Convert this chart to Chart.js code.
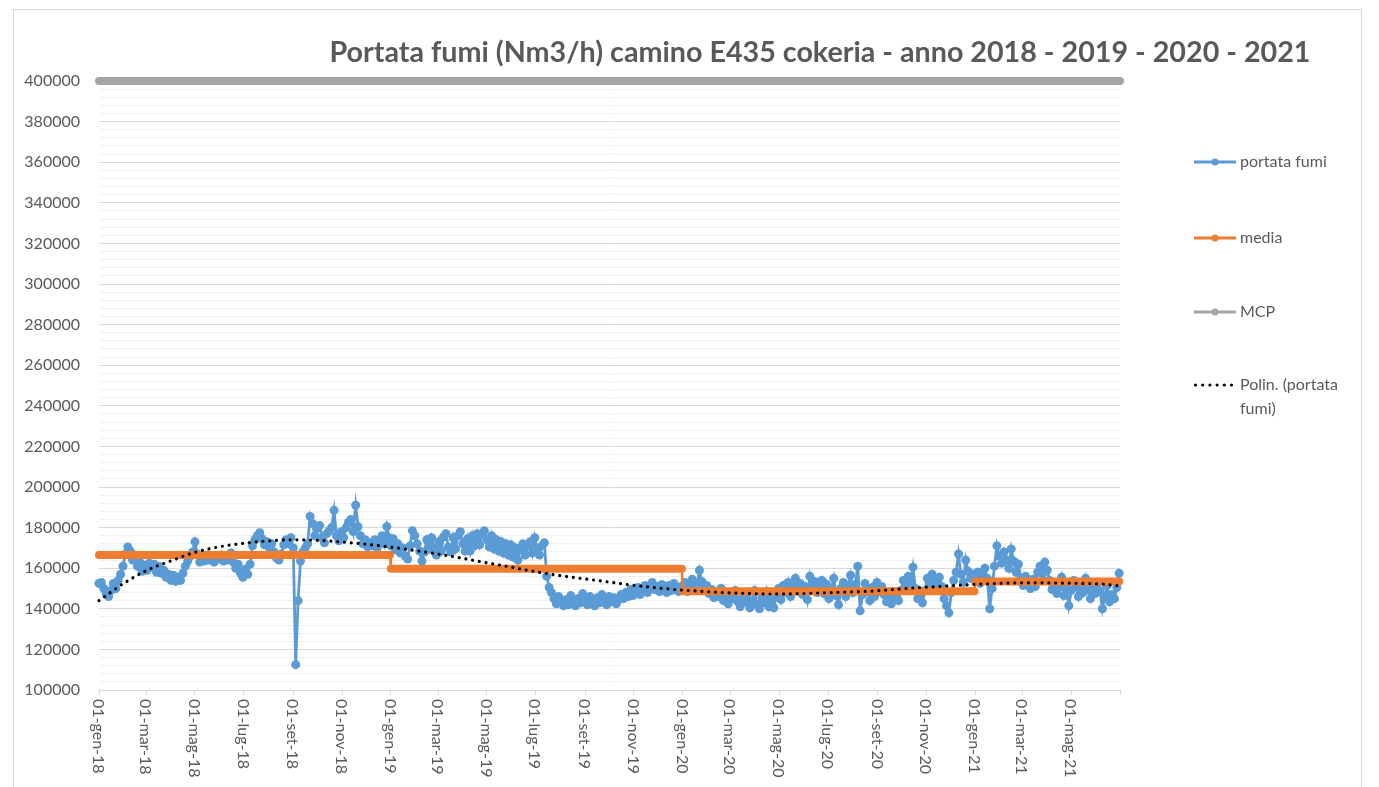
<!DOCTYPE html>
<html>
<head>
<meta charset="utf-8">
<script src="https://cdn.jsdelivr.net/npm/chart.js@4.4.1/dist/chart.umd.min.js"></script>
<style>
  html, body { margin: 0; padding: 0; background: #fff; }
  canvas { display: block; }
</style>
</head>
<body>
<canvas id="chart" width="1379" height="787"></canvas>
<script>
// portata fumi giornaliera, un valore ogni 3 giorni dal 1 gennaio di ogni anno (migliaia di Nm3/h)
const STEP_DAYS = 3;
const flow2018 = [
  152.5, 153, 150, 147.5, 146, 149, 152.5, 150, 154, 157, 161, 167, 170.5, 168.5, 164, 166.5, 161, 163, 158.5, 161.5,
  159, 162.5, 160.5, 162, 158, 161, 157.5, 159, 155.5, 157, 154, 156.5, 153.5, 155.5, 154, 157.5, 161, 163.5, 166, 168,
  173, 167, 163, 165.5, 163.5, 166.5, 164, 165.5, 163, 166, 164.5, 166.5, 163.5, 166, 164, 167.5, 163, 160, 162, 157.5,
  155.5, 159.5, 157, 162, 171, 174, 176, 177.5, 174.5, 171.5, 173, 170, 172, 168, 165, 164, 167, 171.5, 174, 172,
  175, 170, 112.5, 144, 163.5, 168, 170, 172, 185.5, 182, 176, 179.5, 181, 175, 172.5, 177, 178.5, 180, 188.5, 176,
  173.5, 178, 175, 180, 182.5, 184, 178, 191, 180.5, 176, 172, 174, 170.5, 172.5, 171, 174, 170, 173.5, 176, 172,
  180.5, 175
];
const flow2019 = [
  171, 174.5, 169, 172, 167.5, 170, 166, 164.5, 171, 178.5, 176, 172, 168.5, 163.5, 168, 174, 169.5, 175, 170, 166.5,
  173, 168.5, 175.5, 177, 170.5, 168, 175, 169.5, 176, 178, 172, 168.5, 174.5, 168.5, 176, 171, 177, 171.5, 177, 178.5,
  174, 170.5, 176, 169.5, 174, 168.5, 173, 167.5, 172, 166.5, 171.5, 165.5, 170, 164, 169.5, 172, 166.5, 171, 173, 167.5,
  175, 169.5, 166.5, 171, 172.5, 156, 150.5, 148, 145, 142.5, 146, 143, 141.5, 144.5, 142, 146.5, 143.5, 141.5, 145, 143,
  147.5, 144, 142, 146, 143.5, 141.5, 145.5, 143, 147, 144.5, 142, 146, 143.5, 145.5, 142.5, 144.5, 147, 145, 148, 146,
  149.5, 146.5, 148, 150.5, 147, 149, 151.5, 148, 150, 153, 149.5, 151, 148.5, 152, 150, 148, 151.5, 149, 152.5, 150,
  148.5, 151
];
const flow2020 = [
  150, 153, 148.5, 151.5, 154.5, 150, 152, 159, 153.5, 149.5, 151.5, 147.5, 149.5, 145.5, 148, 146, 150, 144, 146.5, 142.5,
  147, 145, 149, 143.5, 141, 146, 143.5, 147.5, 140.5, 144, 149, 142, 140, 145.5, 143, 148.5, 141, 144.5, 140.5, 146,
  150, 144.5, 151.5, 148, 153, 146, 150.5, 155, 149, 152.5, 147, 151, 144.5, 156, 151, 153.5, 148, 150.5, 154, 147.5,
  152, 145, 149.5, 155, 146.5, 142, 150, 153, 146, 151.5, 156.5, 148, 152, 161, 139, 147, 152.5, 149, 144, 150.5,
  146, 153, 148.5, 151, 147, 143.5, 146.5, 142.5, 145, 148.5, 144, 149, 154, 151, 156, 153, 160.5, 150, 145, 147.5,
  143, 149, 155, 151.5, 157, 153, 149.5, 155.5, 151, 145, 141.5, 138, 148, 154, 158, 167, 157, 153, 164, 158.5,
  155, 157
];
const flow2021 = [
  154, 158, 152.5, 156, 160, 155, 140, 150, 161, 171, 166, 162.5, 168, 164, 160, 169.5, 163.5, 158, 162, 155,
  151.5, 156, 153, 150, 154.5, 151, 158, 161, 157, 163, 159, 154, 149.5, 153, 147.5, 150.5, 155.5, 146.5, 150, 141.5,
  149, 154, 151, 146, 152, 148, 155, 149.5, 145, 150, 147.5, 153, 149, 140, 146, 151.5, 143.5, 147, 145, 150.5,
  157.5
];
const flowYearStarts = ['2018-01-01', '2019-01-01', '2020-01-01', '2021-01-01'];

// media annuale
const mediaStarts = ['2018-01-01', '2019-01-01', '2020-01-01', '2021-01-01'];
const mediaEnds = ['2018-12-31', '2019-12-31', '2020-12-31', '2021-06-30'];
const mediaValues = [166.5, 159.7, 148.7, 153.5];

// MCP
const mcpValue = 400;

// linea di tendenza polinomiale (giorno dal 01-gen-18, valore)
const trendDays = [0, 30, 60, 90, 120, 150, 180, 210, 240, 270, 300, 330, 360, 390, 420, 450, 480, 510, 540, 570,
  600, 630, 660, 690, 720, 750, 780, 810, 840, 870, 900, 930, 960, 990, 1020, 1050, 1080, 1110, 1140, 1170,
  1200, 1230, 1260, 1277];
const trendValues = [144.0, 152.3, 159.0, 163.6, 167.8, 170.5, 172.2, 173.4, 174.0, 173.8, 173.0, 172.0, 170.6, 169.0,
  167.2, 165.2, 163.0, 160.9, 158.7, 156.7, 155.1, 153.6, 152.0, 150.6, 149.5, 148.7, 148.0, 147.6, 147.3, 147.4,
  147.8, 148.2, 148.6, 149.4, 150.3, 151.0, 151.7, 152.3, 152.7, 152.8, 152.7, 152.5, 152.0, 151.2];

// asse x
const xTickLabels = ['01-gen-18', '01-mar-18', '01-mag-18', '01-lug-18', '01-set-18', '01-nov-18',
  '01-gen-19', '01-mar-19', '01-mag-19', '01-lug-19', '01-set-19', '01-nov-19',
  '01-gen-20', '01-mar-20', '01-mag-20', '01-lug-20', '01-set-20', '01-nov-20',
  '01-gen-21', '01-mar-21', '01-mag-21'];
const xTickDates = ['2018-01-01', '2018-03-01', '2018-05-01', '2018-07-01', '2018-09-01', '2018-11-01',
  '2019-01-01', '2019-03-01', '2019-05-01', '2019-07-01', '2019-09-01', '2019-11-01',
  '2020-01-01', '2020-03-01', '2020-05-01', '2020-07-01', '2020-09-01', '2020-11-01',
  '2021-01-01', '2021-03-01', '2021-05-01'];
const xEndDate = '2021-07-01';

// asse y
const yMin = 100000, yMax = 400000, yMajor = 20000, yMinor = 4000;

const title = 'Portata fumi (Nm3/h) camino E435 cokeria - anno 2018 - 2019 - 2020 - 2021';
const legendLabels = ['portata fumi', 'media', 'MCP', 'Polin. (portata fumi)'];

const BLUE = '#5b9bd5', ORANGE = '#ed7d31', GREY = '#a5a5a5', TEXT = '#595959';
const FONT = 'Lato, "Open Sans", sans-serif';

const BASE = Date.UTC(2018, 0, 1);
function dayOf(iso) {
  const [y, m, d] = iso.split('-').map(Number);
  return Math.round((Date.UTC(y, m - 1, d) - BASE) / 864e5);
}

const flowPoints = [];
[flow2018, flow2019, flow2020, flow2021].forEach((arr, k) => {
  const start = dayOf(flowYearStarts[k]);
  arr.forEach((v, i) => flowPoints.push({ x: start + i * STEP_DAYS, y: v * 1000 }));
});

const mediaPoints = [];
mediaValues.forEach((v, k) => {
  mediaPoints.push({ x: dayOf(mediaStarts[k]), y: v * 1000 });
  mediaPoints.push({ x: dayOf(mediaEnds[k]), y: v * 1000 });
});

const xEnd = dayOf(xEndDate);
const mcpPoints = [{ x: 0, y: mcpValue * 1000 }, { x: xEnd, y: mcpValue * 1000 }];
const trendPoints = trendDays.map((d, i) => ({ x: d, y: trendValues[i] * 1000 }));
const xTickDays = xTickDates.map(dayOf);

const frameAndText = {
  id: 'frameAndText',
  beforeDraw(chart) {
    const ctx = chart.ctx;
    ctx.save();
    ctx.fillStyle = '#fff';
    ctx.fillRect(0, 0, chart.width, chart.height);
    ctx.strokeStyle = '#d9d9d9';
    ctx.lineWidth = 1;
    ctx.strokeRect(13.5, 9.5, 1348, 800);
    ctx.restore();
  },
  afterDraw(chart) {
    const ctx = chart.ctx;
    const area = chart.chartArea;
    const xs = chart.scales.x;
    ctx.save();

    // titolo
    let size = 28;
    ctx.font = `bold ${size}px ${FONT}`;
    size = size * 980 / ctx.measureText(title).width;
    ctx.font = `bold ${size.toFixed(1)}px ${FONT}`;
    ctx.fillStyle = TEXT;
    ctx.textAlign = 'center';
    ctx.textBaseline = 'alphabetic';
    ctx.fillText(title, 820, 62);

    // etichette asse x ruotate
    ctx.font = `16px ${FONT}`;
    ctx.textAlign = 'left';
    ctx.textBaseline = 'middle';
    xTickDays.forEach((d, i) => {
      const px = xs.getPixelForValue(d);
      ctx.save();
      ctx.translate(px - 1, area.bottom + 9);
      ctx.rotate(Math.PI / 2);
      ctx.fillText(xTickLabels[i], 0, 0);
      ctx.restore();
    });

    // legenda
    const lx = 1194, lw = 42, tx = 1240;
    const rows = [162, 238, 312, 385];
    const colors = [BLUE, ORANGE, GREY];
    ctx.font = `16px ${FONT}`;
    ctx.fillStyle = TEXT;
    ctx.textAlign = 'left';
    ctx.textBaseline = 'middle';
    rows.forEach((y, i) => {
      if (i < 3) {
        ctx.strokeStyle = colors[i];
        ctx.lineWidth = 3;
        ctx.beginPath();
        ctx.moveTo(lx, y);
        ctx.lineTo(lx + lw, y);
        ctx.stroke();
        ctx.fillStyle = colors[i];
        ctx.beginPath();
        ctx.arc(lx + lw / 2, y, 3.5, 0, Math.PI * 2);
        ctx.fill();
        ctx.fillStyle = TEXT;
        ctx.fillText(legendLabels[i], tx, y);
      } else {
        ctx.fillStyle = '#000';
        for (let k = 0; k < 6; k++) {
          ctx.beginPath();
          ctx.arc(lx + 1.5 + k * 7.2, y, 1.6, 0, Math.PI * 2);
          ctx.fill();
        }
        ctx.fillStyle = TEXT;
        ctx.fillText('Polin. (portata', tx, y);
        ctx.fillText('fumi)', tx, y + 24);
      }
    });
    ctx.restore();
  }
};

new Chart(document.getElementById('chart'), {
  type: 'line',
  data: {
    datasets: [
      {
        label: legendLabels[3],
        data: trendPoints,
        borderColor: '#000',
        borderWidth: 3.2,
        borderDash: [0.01, 6.8],
        borderCapStyle: 'round',
        cubicInterpolationMode: 'monotone',
        pointRadius: 0,
        clip: false,
        order: 0
      },
      {
        label: legendLabels[2],
        data: mcpPoints,
        borderColor: GREY,
        borderWidth: 8,
        borderCapStyle: 'round',
        pointRadius: 0,
        clip: false,
        order: 1
      },
      {
        label: legendLabels[1],
        data: mediaPoints,
        borderColor: ORANGE,
        borderWidth: 8,
        borderCapStyle: 'round',
        pointRadius: 0,
        clip: false,
        segment: {
          borderWidth: c => (c.p0.parsed.y === c.p1.parsed.y ? 8 : 2.5)
        },
        order: 2
      },
      {
        label: legendLabels[0],
        data: flowPoints,
        borderColor: BLUE,
        backgroundColor: BLUE,
        borderWidth: 2.8,
        pointRadius: 4.5,
        pointBorderWidth: 0,
        pointBackgroundColor: BLUE,
        tension: 0,
        clip: false,
        order: 3
      }
    ]
  },
  options: {
    responsive: false,
    animation: false,
    devicePixelRatio: 1,
    layout: { padding: { left: 0, top: 81, right: 259, bottom: 0 } },
    plugins: {
      legend: { display: false },
      title: { display: false },
      tooltip: { enabled: false }
    },
    scales: {
      x: {
        type: 'linear',
        min: 0,
        max: xEnd,
        afterFit: s => { s.height = 97; },
        afterBuildTicks: s => { s.ticks = [...xTickDays, xEnd].map(v => ({ value: v })); },
        ticks: { display: false },
        grid: { drawOnChartArea: false, drawTicks: true, tickLength: 5, color: '#d9d9d9' },
        border: { display: true, color: '#d9d9d9' }
      },
      y: {
        type: 'linear',
        min: yMin,
        max: yMax,
        afterFit: s => { s.width = 99; },
        afterBuildTicks: s => {
          const t = [];
          for (let v = yMin; v <= yMax; v += yMinor) t.push({ value: v });
          s.ticks = t;
        },
        ticks: {
          autoSkip: false,
          padding: 19,
          color: TEXT,
          font: { family: FONT, size: 16 },
          callback: v => (v % yMajor === 0 ? String(v) : '')
        },
        grid: {
          drawTicks: false,
          color: c => (c.tick && c.tick.value % yMajor === 0 ? '#d9d9d9' : '#f0f0f0'),
          lineWidth: 1
        },
        border: { display: false }
      }
    }
  },
  plugins: [frameAndText]
});
</script>
</body>
</html>
